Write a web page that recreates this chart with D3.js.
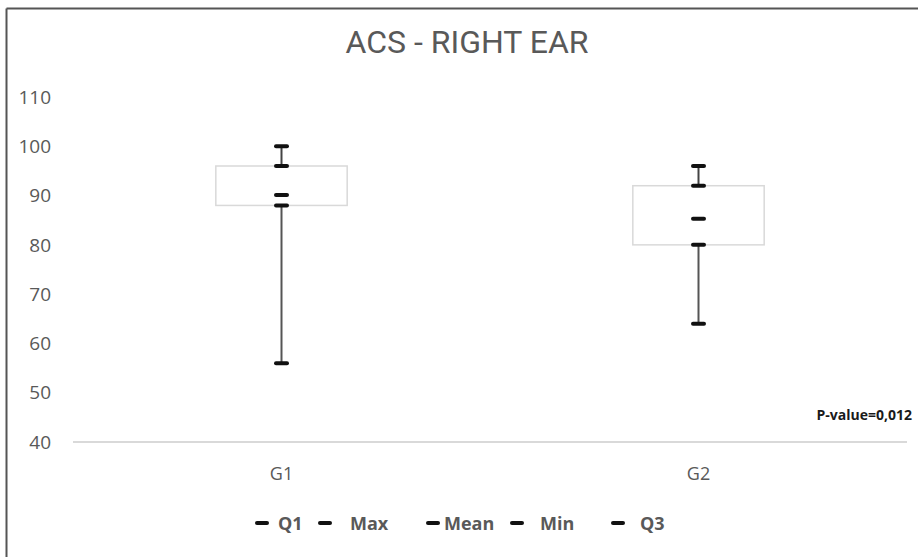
<!DOCTYPE html>
<html>
<head>
<meta charset="utf-8">
<script src="https://cdn.jsdelivr.net/npm/d3@7"></script>
<style>
  body { margin: 0; background: #fff; }
  svg { display: block; }
</style>
</head>
<body>
<div id="chart"></div>
<script>
// data
var groups = ["G1", "G2"];
var q1Values = [88, 80];
var q3Values = [96, 92];
var maxValues = [100, 96];
var minValues = [56, 64];
var meanValues = [90.1, 85.3];
var yTicks = [40, 50, 60, 70, 80, 90, 100, 110];
var legendLabels = ["Q1", "Max", "Mean", "Min", "Q3"];
var pValueText = "P-value=0,012";

var width = 918, height = 557;

var svg = d3.select("#chart")
    .append("svg")
    .attr("width", width)
    .attr("height", height);

// frame (only top & left edges are visible in the source)
svg.append("line").attr("x1", 6.5).attr("x2", width).attr("y1", 8.5).attr("y2", 8.5)
    .attr("stroke", "#555").attr("stroke-width", 2);
svg.append("line").attr("x1", 6.5).attr("x2", 6.5).attr("y1", 8.5).attr("y2", height)
    .attr("stroke", "#555").attr("stroke-width", 2);

svg.append("text")
    .attr("x", 467)
    .attr("y", 53)
    .attr("text-anchor", "middle")
    .style("font", "32px Roboto")
    .attr("fill", "#595959")
    .text("ACS - RIGHT EAR");

var x = d3.scaleBand()
    .domain(groups)
    .range([73, 907]);

var y = d3.scaleLinear()
    .domain([40, 110])
    .range([442, 97]);

// y tick labels
svg.append("g")
    .selectAll("text")
    .data(yTicks)
    .enter()
    .append("text")
    .attr("x", 51)
    .attr("y", function(d) { return y(d); })
    .attr("dy", "0.35em")
    .attr("text-anchor", "end")
    .style("font", "19px 'Open Sans'")
    .attr("fill", "#595959")
    .text(function(d) { return d; });

// baseline
svg.append("line")
    .attr("x1", x.range()[0])
    .attr("x2", x.range()[1])
    .attr("y1", y(40))
    .attr("y2", y(40))
    .attr("stroke", "#d9d9d9")
    .attr("stroke-width", 2);

// category labels
svg.append("g")
    .selectAll("text")
    .data(groups)
    .enter()
    .append("text")
    .attr("x", function(d) { return x(d) + x.bandwidth() / 2; })
    .attr("y", 474)
    .attr("dy", "0.35em")
    .attr("text-anchor", "middle")
    .style("font", "18px 'Open Sans'")
    .attr("fill", "#595959")
    .text(function(d) { return d; });

var boxW = x.bandwidth() * 0.315;
var capW = 15;

var rows = groups.map(function(g, i) {
    return { g: g, q1: q1Values[i], q3: q3Values[i], max: maxValues[i], min: minValues[i], mean: meanValues[i] };
});

var box = svg.append("g").selectAll("g")
    .data(rows)
    .enter()
    .append("g")
    .attr("transform", function(d) { return "translate(" + (x(d.g) + x.bandwidth() / 2) + ",0)"; });

box.append("rect")
    .attr("x", -boxW / 2)
    .attr("width", boxW)
    .attr("y", function(d) { return y(d.q3); })
    .attr("height", function(d) { return y(d.q1) - y(d.q3); })
    .attr("fill", "#fff")
    .attr("stroke", "#d9d9d9")
    .attr("stroke-width", 1.5);

// whiskers
box.append("line")
    .attr("y1", function(d) { return y(d.max); })
    .attr("y2", function(d) { return y(d.q3); })
    .attr("stroke", "#444").attr("stroke-width", 2);
box.append("line")
    .attr("y1", function(d) { return y(d.q1); })
    .attr("y2", function(d) { return y(d.min); })
    .attr("stroke", "#555").attr("stroke-width", 2);

// markers: short black bars
["q1", "max", "mean", "min", "q3"].forEach(function(k) {
    box.append("line")
        .attr("x1", -capW / 2 + 2)
        .attr("x2", capW / 2 - 2)
        .attr("y1", function(d) { return y(d[k]); })
        .attr("y2", function(d) { return y(d[k]); })
        .attr("stroke", "#111")
        .attr("stroke-width", 4)
        .attr("stroke-linecap", "round");
});

svg.append("text")
    .attr("x", 912)
    .attr("y", 415)
    .attr("dy", "0.35em")
    .attr("text-anchor", "end")
    .style("font", "bold 14px 'Open Sans'")
    .attr("fill", "#1a1a1a")
    .text(pValueText);

// legend (uneven spacing as in the source)
var legendMarkX = [262, 325, 433, 517, 618];
var legendTextX = [278, 350, 444, 540, 640];

var leg = svg.append("g").selectAll("g")
    .data(legendLabels)
    .enter()
    .append("g");

leg.append("line")
    .attr("x1", function(d, i) { return legendMarkX[i] - 5; })
    .attr("x2", function(d, i) { return legendMarkX[i] + 5; })
    .attr("y1", 523)
    .attr("y2", 523)
    .attr("stroke", "#111")
    .attr("stroke-width", 4)
    .attr("stroke-linecap", "round");

leg.append("text")
    .attr("x", function(d, i) { return legendTextX[i]; })
    .attr("y", 524)
    .attr("dy", "0.35em")
    .style("font", "bold 18px 'Open Sans'")
    .attr("fill", "#595959")
    .text(function(d) { return d; });
</script>
</body>
</html>
